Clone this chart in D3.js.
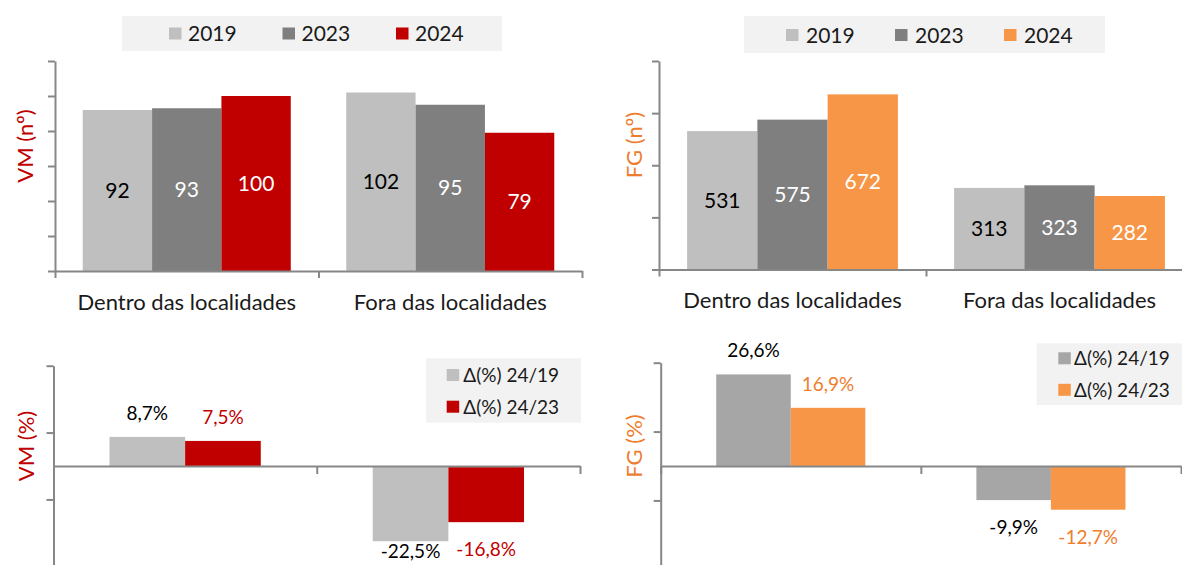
<!DOCTYPE html>
<html>
<head>
<meta charset="utf-8">
<script src="https://cdn.jsdelivr.net/npm/d3@7"></script>
<style>
  body { margin: 0; background: #fff; }
  svg text { font-family: Lato, "Open Sans", sans-serif; }
</style>
</head>
<body>
<div id="chart"></div>
<script>
// data
const categories = ["Dentro das localidades", "Fora das localidades"];
const years = ["2019", "2023", "2024"];
const vm2019 = [92, 102];
const vm2023 = [93, 95];
const vm2024 = [100, 79];
const fg2019 = [531, 313];
const fg2023 = [575, 323];
const fg2024 = [672, 282];
const changeNames = ["Δ(%) 24/19", "Δ(%) 24/23"];
const vmChange2419 = [8.7, -22.5];
const vmChange2423 = [7.5, -16.8];
const fgChange2419 = [26.6, -9.9];
const fgChange2423 = [16.9, -12.7];
const vmTicks = [0, 20, 40, 60, 80, 100, 120];
const fgTicks = [0, 200, 400, 600, 800];
const pctTicks = [-30, -10, 10, 30];

const RED = "#c00000", ORANGE = "#f79646", ORANGE_TXT = "#ee7d2e";
const AXIS = "#878787";

const pt = d3.formatLocale({decimal: ",", thousands: ".", grouping: [3], currency: ["", "€"], minus: "-"});
const pctFmt = v => pt.format(".1f")(v) + "%";

const svg = d3.select("#chart").append("svg")
    .attr("width", 1182)
    .attr("height", 565);

function drawPanel(cfg) {
    const g = svg.append("g");
    const x0 = d3.scaleBand().domain(categories).range([cfg.left, cfg.right]).padding(0);
    const x1 = d3.scaleBand().domain(cfg.series.map(s => s.name))
        .range([0, x0.bandwidth()]).paddingInner(0).paddingOuter(cfg.outer);
    const y = d3.scaleLinear().domain(cfg.domain).range([cfg.bottom, cfg.top]);
    const base = y(0);

    // bars
    cfg.series.forEach(s => {
        g.selectAll(null).data(s.values).enter().append("rect")
            .attr("x", (d, i) => x0(categories[i]) + x1(s.name))
            .attr("width", x1.bandwidth())
            .attr("y", d => Math.min(y(d), base))
            .attr("height", d => Math.abs(y(d) - base))
            .attr("fill", s.color);
    });

    // y axis
    const yAxis = g.append("g")
        .attr("transform", `translate(${cfg.left},0)`)
        .call(d3.axisLeft(y).tickValues(cfg.ticks).tickFormat("").tickSize(7).tickSizeOuter(0));
    yAxis.select(".domain").attr("stroke", AXIS).attr("stroke-width", 2);
    yAxis.selectAll(".tick line").attr("stroke", AXIS).attr("stroke-width", 2);

    // x axis (ticks on the category boundaries)
    const xb = d3.scaleLinear().domain([0, categories.length]).range([cfg.left, cfg.right]);
    const xAxis = g.append("g")
        .attr("transform", `translate(0,${base})`)
        .call(d3.axisBottom(xb).tickValues(d3.range(categories.length + 1)).tickFormat("").tickSize(cfg.xTick).tickSizeOuter(0));
    xAxis.select(".domain").attr("stroke", AXIS).attr("stroke-width", 2);
    xAxis.selectAll(".tick line").attr("stroke", AXIS).attr("stroke-width", 2);

    // category labels
    if (cfg.showCats) {
        const cat = g.append("g")
            .attr("transform", `translate(0,${base})`)
            .call(d3.axisBottom(x0).tickSize(0).tickPadding(23));
        cat.select(".domain").remove();
        cat.selectAll("text")
            .attr("font-family", "Lato, 'Open Sans', sans-serif")
            .attr("font-size", 22).attr("fill", "#1a1a1a");
    }

    // value labels (kept inside the picture, like the spreadsheet does)
    cfg.series.forEach(s => {
        g.selectAll(null).data(s.values).enter().append("text")
            .attr("x", (d, i) => x0(categories[i]) + x1(s.name) + x1.bandwidth() / 2)
            .attr("y", d => {
                if (cfg.inside) return (y(d) + base) / 2;
                return d >= 0 ? y(d) - 24 : Math.min(y(d) + 27, 551);
            })
            .attr("dy", "0.36em")
            .attr("text-anchor", "middle")
            .attr("font-size", cfg.labelSize)
            .attr("fill", s.labelColor)
            .text(d => cfg.fmt(d));
    });

    // axis title
    g.append("text")
        .attr("transform", `translate(${cfg.titleX},${cfg.titleY}) rotate(-90)`)
        .attr("text-anchor", "middle")
        .attr("dy", "0.36em")
        .attr("font-size", 22)
        .attr("fill", cfg.titleColor)
        .text(cfg.title);

    // legend
    const L = cfg.legend;
    const lg = svg.append("g");
    lg.append("rect").attr("x", L.x).attr("y", L.y).attr("width", L.w).attr("height", L.h).attr("fill", "#f2f2f2");
    cfg.series.forEach((s, i) => {
        const ix = L.ix + i * L.dx, iy = L.iy + i * L.dy;
        lg.append("rect").attr("x", ix).attr("y", iy - 6).attr("width", 12.5).attr("height", 12).attr("fill", s.color);
        lg.append("text").attr("x", ix + L.tx).attr("y", iy).attr("dy", "0.36em")
            .attr("font-size", L.size).attr("fill", "#1a1a1a").text(s.name);
    });
}

drawPanel({
    left: 55, right: 582, top: 61, bottom: 271, domain: [0, 120], ticks: vmTicks,
    outer: 0.4, xTick: 7, showCats: true, inside: true, labelSize: 21, fmt: d => d,
    series: [
        {name: years[0], values: vm2019, color: "#bfbfbf", labelColor: "#000"},
        {name: years[1], values: vm2023, color: "#7f7f7f", labelColor: "#fff"},
        {name: years[2], values: vm2024, color: RED, labelColor: "#fff"}
    ],
    title: "VM (nº)", titleColor: RED, titleX: 25, titleY: 146,
    legend: {x: 122, y: 16, w: 380, h: 35, ix: 169, iy: 33.5, dx: 113.5, dy: 0, tx: 19, size: 21}
});

drawPanel({
    left: 659, right: 1193, top: 61, bottom: 269.5, domain: [0, 800], ticks: fgTicks,
    outer: 0.4, xTick: 7, showCats: true, inside: true, labelSize: 21, fmt: d => d,
    series: [
        {name: years[0], values: fg2019, color: "#bfbfbf", labelColor: "#000"},
        {name: years[1], values: fg2023, color: "#7f7f7f", labelColor: "#fff"},
        {name: years[2], values: fg2024, color: ORANGE, labelColor: "#fff"}
    ],
    title: "FG (nº)", titleColor: ORANGE_TXT, titleX: 634, titleY: 145,
    legend: {x: 744, y: 16, w: 361, h: 37, ix: 786, iy: 35, dx: 109, dy: 0, tx: 20, size: 21}
});

drawPanel({
    left: 53.5, right: 580, top: 365.7, bottom: 566.3, domain: [-30, 30], ticks: pctTicks,
    outer: 0.74, xTick: 8, showCats: false, inside: false, labelSize: 19, fmt: pctFmt,
    series: [
        {name: changeNames[0], values: vmChange2419, color: "#bfbfbf", labelColor: "#000"},
        {name: changeNames[1], values: vmChange2423, color: RED, labelColor: RED}
    ],
    title: "VM (%)", titleColor: RED, titleX: 26, titleY: 446,
    legend: {x: 426, y: 358.3, w: 155, h: 64.4, ix: 446.7, iy: 375, dx: 0, dy: 31.7, tx: 16.6, size: 19}
});

drawPanel({
    left: 660.7, right: 1181, top: 362.7, bottom: 569.3, domain: [-30, 30], ticks: pctTicks,
    outer: 0.745, xTick: 8, showCats: false, inside: false, labelSize: 19, fmt: pctFmt,
    series: [
        {name: changeNames[0], values: fgChange2419, color: "#a6a6a6", labelColor: "#000"},
        {name: changeNames[1], values: fgChange2423, color: ORANGE, labelColor: ORANGE_TXT}
    ],
    title: "FG (%)", titleColor: ORANGE_TXT, titleX: 634, titleY: 446,
    legend: {x: 1036.7, y: 343.3, w: 160, h: 61.7, ix: 1058.3, iy: 358.3, dx: 0, dy: 31.5, tx: 15.7, size: 19}
});
</script>
</body>
</html>
